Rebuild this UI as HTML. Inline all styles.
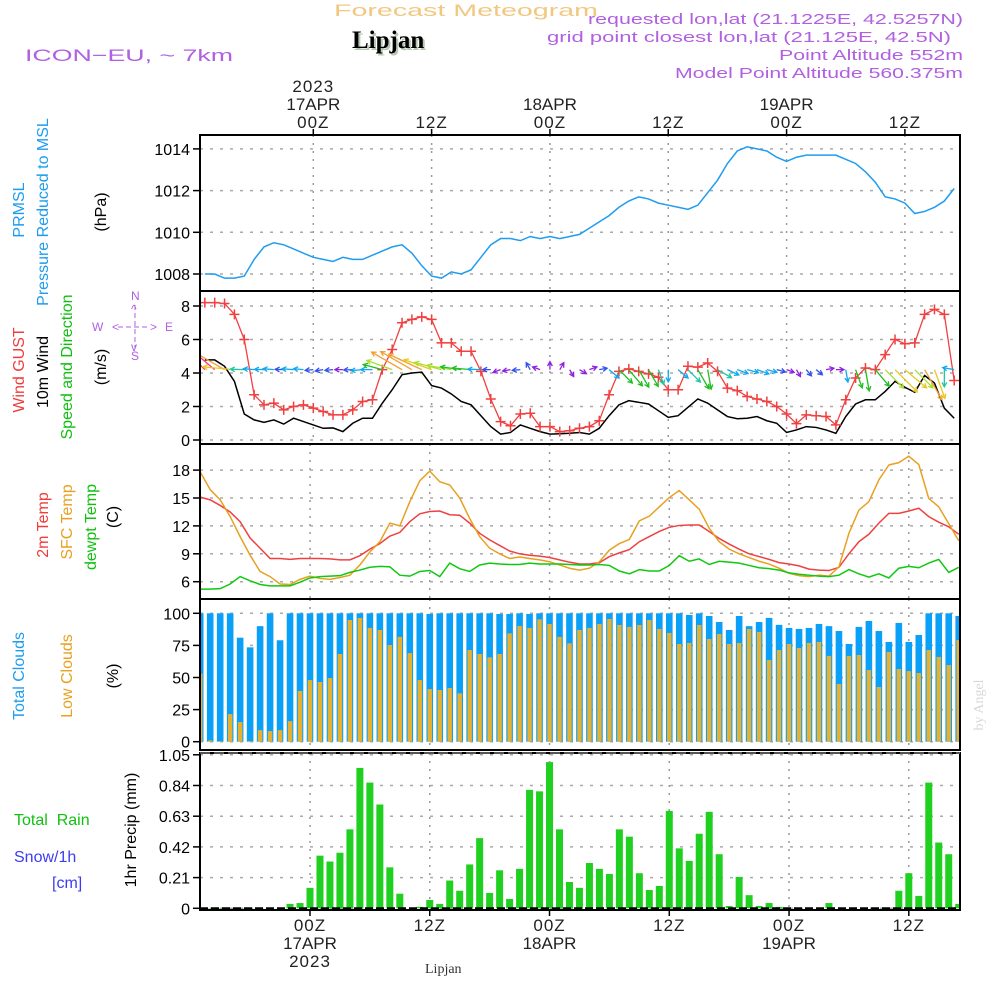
<!DOCTYPE html>
<html><head><meta charset="utf-8"><style>
html,body{margin:0;padding:0;background:#fff;}
svg{display:block;font-family:"Liberation Sans",sans-serif;}
</style></head><body>
<svg id="chart" width="1000" height="1000" viewBox="0 0 1000 1000" xmlns="http://www.w3.org/2000/svg">
<defs>
<clipPath id="cp"><rect x="201" y="136" width="758" height="148"/></clipPath>
<clipPath id="cw"><rect x="201" y="292" width="758" height="151"/></clipPath>
<clipPath id="ct"><rect x="201" y="445" width="758" height="153"/></clipPath>
<clipPath id="cc"><rect x="201" y="600" width="758" height="149"/></clipPath>
<clipPath id="cr"><rect x="201" y="754" width="758" height="155"/></clipPath>
</defs>
<g>
<text x="334" y="16" fill="#f2c880" font-size="17" textLength="264" lengthAdjust="spacingAndGlyphs">Forecast Meteogram</text>
<text x="354" y="50" fill="#b8c8b0" font-size="25" font-weight="bold" font-family="Liberation Serif,serif">Lipjan</text>
<text x="352" y="48" fill="#000" font-size="25" font-weight="bold" font-family="Liberation Serif,serif">Lipjan</text>
<text x="25" y="61" fill="#b060e0" font-size="17" textLength="208" lengthAdjust="spacingAndGlyphs">ICON−EU, ~ 7km</text>
<text x="588" y="24" fill="#b060e0" font-size="15" textLength="375" lengthAdjust="spacingAndGlyphs">requested lon,lat (21.1225E, 42.5257N)</text>
<text x="547" y="42" fill="#b060e0" font-size="15" textLength="404" lengthAdjust="spacingAndGlyphs">grid point closest lon,lat (21.125E, 42.5N)</text>
<text x="779" y="60" fill="#b060e0" font-size="15" textLength="184" lengthAdjust="spacingAndGlyphs">Point Altitude 552m</text>
<text x="675" y="78" fill="#b060e0" font-size="15" textLength="288" lengthAdjust="spacingAndGlyphs">Model Point Altitude 560.375m</text>
</g>
<g id="labels" font-size="16">
<text transform="translate(24,210) rotate(-90)" text-anchor="middle" fill="#1e9cf0">PRMSL</text>
<text transform="translate(48,212) rotate(-90)" text-anchor="middle" fill="#1e9cf0">Pressure Reduced to MSL</text>
<text transform="translate(106,212) rotate(-90)" text-anchor="middle" fill="#000">(hPa)</text>
<text transform="translate(24,370) rotate(-90)" text-anchor="middle" fill="#f03c3c">Wind GUST</text>
<text transform="translate(48,372) rotate(-90)" text-anchor="middle" fill="#000">10m Wind</text>
<text transform="translate(72,367) rotate(-90)" text-anchor="middle" fill="#10c010">Speed and Direction</text>
<text transform="translate(106,367) rotate(-90)" text-anchor="middle" fill="#000">(m/s)</text>
<g fill="#b060e0" font-size="12">
<text x="92" y="331">W</text><text x="165" y="331">E</text><text x="131" y="300">N</text><text x="131" y="360">S</text>
<text x="112" y="331">&lt;</text><text x="150" y="331">&gt;</text><text x="131" y="313">^</text><text x="131" y="351">v</text>
<line x1="118" y1="327" x2="150" y2="327" stroke="#b060e0" stroke-dasharray="5,3"/>
<line x1="135" y1="305" x2="135" y2="349" stroke="#b060e0" stroke-dasharray="5,3"/>
</g>
<text transform="translate(48,525) rotate(-90)" text-anchor="middle" fill="#f03c3c">2m Temp</text>
<text transform="translate(72,522) rotate(-90)" text-anchor="middle" fill="#e8a020">SFC Temp</text>
<text transform="translate(96,527) rotate(-90)" text-anchor="middle" fill="#10c010">dewpt Temp</text>
<text transform="translate(118,517) rotate(-90)" text-anchor="middle" fill="#000">(C)</text>
<text transform="translate(24,676) rotate(-90)" text-anchor="middle" fill="#1e9cf0">Total Clouds</text>
<text transform="translate(72,676) rotate(-90)" text-anchor="middle" fill="#e8a020">Low Clouds</text>
<text transform="translate(118,676) rotate(-90)" text-anchor="middle" fill="#000">(%)</text>
<text x="14" y="825" fill="#10c010" xml:space="preserve">Total  Rain</text>
<text x="14" y="862" fill="#3c3cf0">Snow/1h</text>
<text x="52" y="888" fill="#3c3cf0">[cm]</text>
<text transform="translate(136,830) rotate(-90)" text-anchor="middle" fill="#000">1hr Precip (mm)</text>
<text transform="translate(983,705) rotate(-90)" text-anchor="middle" fill="#d8d8d8" font-size="14" font-family="Liberation Serif,serif">by Angel</text>
<text x="425" y="973" fill="#333" font-size="14" font-family="Liberation Serif,serif">Lipjan</text>
</g>
<g id="g"></g>
</svg>
<script>
// hours relative to 17APR 00Z
const hours = [-11,-10,-9,-8,-7,-6,-5,-4,-3,-2,-1,0,1,2,3,4,5,6,7,8,9,10,11,12,13,14,15,16,17,18,19,20,21,22,23,24,25,26,27,28,29,30,31,32,33,34,35,36,37,38,39,40,41,42,43,44,45,46,47,48,49,50,51,52,53,54,55,56,57,58,59,60,61,62,63,64,65];
const pressure = [1008.0,1008.0,1007.8,1007.8,1007.9,1008.7,1009.3,1009.5,1009.4,1009.2,1009.0,1008.8,1008.7,1008.6,1008.8,1008.7,1008.7,1008.9,1009.1,1009.3,1009.4,1009.0,1008.4,1007.9,1007.8,1008.1,1008.0,1008.2,1008.8,1009.4,1009.7,1009.7,1009.6,1009.8,1009.7,1009.8,1009.7,1009.8,1009.9,1010.2,1010.5,1010.8,1011.2,1011.5,1011.7,1011.6,1011.4,1011.3,1011.2,1011.1,1011.3,1011.9,1012.5,1013.3,1013.9,1014.1,1014.0,1013.9,1013.6,1013.4,1013.6,1013.7,1013.7,1013.7,1013.7,1013.5,1013.3,1012.9,1012.4,1011.7,1011.6,1011.4,1010.9,1011.0,1011.2,1011.5,1012.1];
const gust = [8.2,8.2,8.15,7.5,6.0,2.7,2.1,2.2,1.8,2.0,2.1,1.9,1.7,1.5,1.5,1.8,2.3,2.4,4.2,5.4,7.0,7.2,7.35,7.2,5.8,5.8,5.3,5.3,4.1,2.45,1.1,0.85,1.55,1.6,0.8,0.8,0.5,0.55,0.7,0.8,1.15,2.7,4.1,4.25,4.1,3.95,3.75,3.0,3.0,4.4,4.35,4.6,4.1,3.1,2.95,2.6,2.45,2.3,2.0,1.55,0.98,1.5,1.45,1.4,0.9,2.4,3.7,4.3,4.2,5.1,6.0,5.75,5.8,7.5,7.8,7.5,3.55];
const wind = [4.78,4.78,4.4,3.5,1.55,1.2,1.05,1.2,0.95,1.3,1.1,0.9,0.7,0.72,0.5,1.0,1.3,1.3,2.2,3.0,3.9,4.0,4.05,3.25,3.1,2.75,2.3,2.1,1.45,0.8,0.35,0.45,0.9,0.7,0.5,0.35,0.37,0.4,0.45,0.35,0.7,1.45,2.1,2.35,2.25,2.15,1.75,1.35,1.45,1.95,2.45,2.2,1.8,1.4,1.27,1.3,1.4,1.15,1.0,0.45,0.6,0.8,0.75,0.6,0.4,1.4,2.15,2.4,2.4,2.9,3.5,3.15,2.85,3.85,3.4,1.9,1.3];
const windDir = [135,140,150,175,178,175,178,175,178,176,175,185,190,185,180,182,185,180,165,160,150,150,155,160,165,170,172,175,178,180,200,190,185,120,160,90,60,300,330,20,10,320,315,310,300,300,290,270,320,315,300,280,330,335,340,345,340,345,345,340,300,310,320,10,0,280,290,280,310,315,315,320,315,300,290,270,170];
const temp2m = [15.1,14.8,14.2,13.5,12.45,10.7,9.6,8.5,8.5,8.4,8.5,8.5,8.5,8.45,8.35,8.35,8.8,9.5,10.1,10.9,11.3,12.45,13.3,13.55,13.6,13.2,13.15,12.3,11.2,10.5,9.9,9.3,9.0,8.85,8.75,8.6,8.35,8.1,7.9,7.9,8.05,8.7,9.1,9.45,10.3,10.85,11.4,11.85,12.05,12.1,12.1,11.4,10.65,10.05,9.5,9.0,8.7,8.4,8.05,7.9,7.7,7.35,7.25,7.2,7.55,9.0,10.3,11.1,12.3,13.35,13.35,13.6,13.9,13.0,12.4,11.9,11.1];
const tempSfc = [17.8,15.9,14.8,13.0,10.85,8.85,7.1,6.55,5.75,5.7,6.25,6.6,6.35,6.25,6.45,6.7,7.8,9.2,10.3,12.3,12.0,14.6,16.85,17.9,16.75,16.4,15.0,12.8,10.85,9.6,9.0,8.5,8.65,8.5,8.35,8.15,7.8,7.45,7.25,7.45,8.15,9.4,10.1,10.55,12.55,13.05,14.05,15.05,15.8,14.8,13.8,11.75,10.3,9.5,9.0,8.6,8.2,7.9,7.45,6.9,6.65,6.55,6.7,6.6,7.6,11.2,13.7,14.6,16.95,18.55,18.8,19.5,18.6,14.95,14.05,12.25,10.4];
const dewpt = [5.2,5.2,5.25,5.75,6.55,6.1,5.7,5.55,5.55,5.55,5.95,6.4,6.55,6.6,6.65,7.0,7.25,7.55,7.65,7.6,6.7,6.6,7.1,7.2,6.55,8.0,7.4,7.1,7.8,8.0,7.9,7.85,7.85,8.0,7.9,7.9,7.9,7.85,7.8,7.8,7.85,7.75,7.15,6.85,7.3,7.15,7.15,7.75,8.8,8.2,8.45,7.85,8.2,8.1,8.0,7.75,7.5,7.4,7.25,6.95,6.8,6.7,6.6,6.55,6.7,7.3,6.85,6.5,6.85,6.4,7.45,7.65,7.5,8.0,8.4,7.0,7.55];
const totalClouds = [100,100,100,100,81,73.5,90,100,79,100,100,100,100,100,100,100,100,100,100,100,100,100,100,99.5,100,100,100,100,100,100,99.5,99.5,100,99.5,100,100,100,100,100,100,100,100,100,100,100,100,100,100,100,98.7,100,97.9,93.2,87,97.9,90,93.2,96.4,91,88.6,87.8,88.6,91.7,90,86.2,76.1,89.4,94,86.2,77.7,92.5,77.7,83.1,100,100,100,97.9,100];
const lowClouds = [53,1,0.5,21.5,15.3,0.5,9,8.3,9,16,39.5,48,46.5,49.6,68.3,94.8,96.4,88.6,87,75.3,81.6,69,48,41,40.3,41.8,37.7,71.4,68.3,65.7,68.3,84.4,90.1,88.6,95.3,91.7,81.6,76.6,87,88.6,91.7,95.6,90.9,89.4,90.9,94.8,87.8,84.7,76.1,76.9,90.9,80,83.9,76.1,76.9,87.8,85.5,63.6,71.4,76.1,73,76.9,77.7,66.8,44.9,66.8,67.5,55.8,42.6,69.9,56.6,55,53.5,71.4,66,59.7,79.2];
const rain = [0,0.002,0.002,0.002,0.002,0.002,0.002,0.002,0.002,0.03,0.036,0.14,0.36,0.32,0.38,0.54,0.96,0.86,0.71,0.28,0.1,0,0.01,0.057,0.03,0.19,0.12,0.3,0.48,0.105,0.26,0.064,0.27,0.81,0.80,1.0,0.54,0.18,0.14,0.31,0.27,0.235,0.54,0.49,0.24,0.125,0.153,0.666,0.41,0.324,0.51,0.66,0.37,0.016,0.214,0.09,0.016,0.036,0.01,0,0,0,0,0.036,0,0,0,0,0,0,0.12,0.24,0.085,0.86,0.45,0.37,0.03];
const pTicks = [1008,1010,1012,1014];
const wTicks = [0,2,4,6,8];
const tTicks = [6,9,12,15,18];
const cTicks = [0,25,50,75,100];
const rTicks = [0,0.21,0.42,0.63,0.84,1.05];
const rTickLabels = ["0","0.21","0.42","0.63","0.84","1.05"];
const timeMarks = [0,12,24,36,48,60];
const timeLabels = ["00Z","12Z","00Z","12Z","00Z","12Z"];
const dateLabels = ["17APR","","18APR","","19APR",""];

const NS="http://www.w3.org/2000/svg";
const G=document.getElementById('g');
function el(tag,attrs,parent){const e=document.createElementNS(NS,tag);for(const k in attrs)e.setAttribute(k,attrs[k]);(parent||G).appendChild(e);return e;}
const xu=h=>313.3+h*9.86;
const xl=h=>310+h*9.98;
const yP=v=>274-(v-1008)*20.85;
const yW=v=>440-v*16.75;
const yT=v=>581.7-(v-6)*9.3;
const yC=v=>741.7-v*1.284;
const yR=v=>908.3-v*146.2;

const panels=[
 {name:'pressure-panel',top:135,bot:291,ticks:pTicks,lab:pTicks.map(String),y:yP,x:xu},
 {name:'wind-panel',top:291,bot:444,ticks:wTicks,lab:wTicks.map(String),y:yW,x:xu},
 {name:'temp-panel',top:444,bot:599,ticks:tTicks,lab:tTicks.map(String),y:yT,x:xl},
 {name:'cloud-panel',top:599,bot:750,ticks:cTicks,lab:cTicks.map(String),y:yC,x:xl},
 {name:'rain-panel',top:753,bot:910,ticks:rTicks,lab:rTickLabels,y:yR,x:xl}
];
panels.forEach(p=>{
 const g=el('g',{});
 
 
 timeMarks.forEach(t=>{
  const l=el('line',{x1:p.x(t),x2:p.x(t),y1:p.top,y2:p.bot,stroke:'#999','stroke-width':1.5,'stroke-dasharray':'2,6'},g);
  
  
 });
 p.ticks.forEach((v,i)=>{
  const y=p.y(v);
  const l=el('line',{x1:200,x2:960,y1:y,y2:y,stroke:'#aaa','stroke-width':1.5,'stroke-dasharray':'3,7'},g);
  
  
  el('line',{x1:193,x2:200,y1:y,y2:y,stroke:'#000','stroke-width':1.5},g);
  const t=el('text',{x:190,y:y+6,'text-anchor':'end','font-size':16,fill:'#000'},g);
  t.textContent=p.lab[i];
  
  
 });
});
const pl=el('polyline',{points:hours.map((h,i)=>xu(h)+','+yP(pressure[i])).join(' '),fill:'none',stroke:'#1e9cf0','stroke-width':1.5,'clip-path':'url(#cp)'});


const wl=el('polyline',{points:hours.map((h,i)=>xu(h)+','+yW(wind[i])).join(' '),fill:'none',stroke:'#000','stroke-width':1.5,'clip-path':'url(#cw)'});


const gl=el('polyline',{points:hours.map((h,i)=>xu(h)+','+yW(gust[i])).join(' '),fill:'none',stroke:'#f04040','stroke-width':1.3,'clip-path':'url(#cw)'});


hours.forEach((h,i)=>{
 const x=xu(h),y=yW(gust[i]);
 const m=el('path',{d:`M${x-5},${y}H${x+5}M${x},${y-5}V${y+5}`,stroke:'#f04040','stroke-width':1.5,'clip-path':'url(#cw)'});
 
 
});
function wcol(s){if(s>4.5)return'#ff3090';if(s>3.6)return'#f0a030';if(s>3.1)return'#e8c820';if(s>2.6)return'#a8e030';if(s>2.0)return'#20c020';if(s>1.5)return'#20c8a0';if(s>1.0)return'#10a8f0';if(s>0.6)return'#3050f0';return'#9020e0';}
hours.forEach((h,i)=>{
 const x0=xu(h),y0=yW(4.2);
 const L=Math.max(8,wind[i]*9);
 const a=windDir[i]*Math.PI/180;
 const x1=x0+L*Math.cos(a),y1=y0-L*Math.sin(a);
 const b1=a+Math.PI-0.5,b2=a+Math.PI+0.5;
 const c=wcol(wind[i]);
 const ar=el('path',{d:`M${x0},${y0}L${x1},${y1}M${x1+5*Math.cos(b1)},${y1-5*Math.sin(b1)}L${x1},${y1}L${x1+5*Math.cos(b2)},${y1-5*Math.sin(b2)}`,stroke:c,'stroke-width':1.3,fill:'none','clip-path':'url(#cw)'});
 
 
});
[[temp2m,'#f04040','temp-2m-line'],[tempSfc,'#e8a020','sfc-temp-line'],[dewpt,'#10c810','dewpoint-line']].forEach(s=>{
 const l=el('polyline',{points:hours.map((h,i)=>xl(h)+','+yT(s[0][i])).join(' '),fill:'none',stroke:s[1],'stroke-width':1.5,'clip-path':'url(#ct)'});
 
 
});
hours.forEach((h,i)=>{
 const x=xl(h);
 const b=el('rect',{x:x-3.3,y:yC(totalClouds[i]),width:6.6,height:yC(0)-yC(totalClouds[i]),fill:'#0aa0f8','clip-path':'url(#cc)'});
 
 
 const o=el('rect',{x:x-2.2,y:yC(lowClouds[i]),width:4.4,height:yC(0)-yC(lowClouds[i]),fill:'#e8b030','clip-path':'url(#cc)'});
 
 
});
hours.forEach((h,i)=>{
 const x=xl(h);
 const r=el('rect',{x:x-3.5,y:yR(rain[i]),width:7,height:yR(0)-yR(rain[i]),fill:'#20d020','clip-path':'url(#cr)'});
 
 
});
el('line',{x1:200,x2:960,y1:908.3,y2:908.3,stroke:'#000','stroke-width':2,'stroke-dasharray':'8,3'});
panels.forEach((p,k)=>{
 const r=el('rect',{x:200,y:p.top,width:760,height:p.bot-p.top,fill:'none',stroke:'#000','stroke-width':2});
 
 
});
el('line',{x1:200,x2:960,y1:753,y2:753,stroke:'#555','stroke-width':2,'stroke-dasharray':'10,4'});
timeMarks.forEach((t,i)=>{
 const xt=xu(t),xb=xl(t);
 el('line',{x1:xt,x2:xt,y1:129,y2:135,stroke:'#000','stroke-width':1.5});
 el('line',{x1:xb,x2:xb,y1:910,y2:916,stroke:'#000','stroke-width':1.5});
 const a=el('text',{x:xt,y:128,'text-anchor':'middle','font-size':17,fill:'#222','letter-spacing':1});
 a.textContent=timeLabels[i];
 
 
 const b=el('text',{x:xb,y:931,'text-anchor':'middle','font-size':17,fill:'#222','letter-spacing':1});
 b.textContent=timeLabels[i];
 
 
 if(dateLabels[i]){
  const c=el('text',{x:xt,y:110,'text-anchor':'middle','font-size':17,fill:'#222'});
  c.textContent=dateLabels[i];
  
  
  const d=el('text',{x:xb,y:949,'text-anchor':'middle','font-size':17,fill:'#222'});
  d.textContent=dateLabels[i];
  
  
 }
});
const y1=el('text',{x:xu(0),y:92,'text-anchor':'middle','font-size':17,fill:'#222','letter-spacing':1});
y1.textContent='2023';


const y2=el('text',{x:xl(0),y:967,'text-anchor':'middle','font-size':17,fill:'#222','letter-spacing':1});
y2.textContent='2023';


</script>
</body></html>
